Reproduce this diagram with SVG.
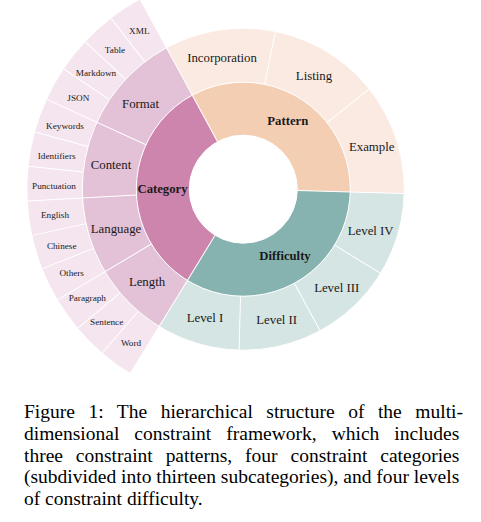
<svg xmlns="http://www.w3.org/2000/svg" width="481" height="522" viewBox="0 0 481 522">
<style>
  .arc{fill:none;}
  .in{stroke-width:53;}
  .mid{stroke-width:54;}
  .out{stroke-width:55;}
  .c1{stroke:#cd84ad;} .c2{stroke:#e3c1d6;} .c3{stroke:#f4e5ee;}
  .p1{stroke:#f4ceb3;} .p2{stroke:#fbeae2;}
  .d1{stroke:#86b2b0;} .d2{stroke:#d4e5e3;}
  .sep{stroke:#ffffff;stroke-width:1;fill:none;}
  text{font-family:"Liberation Serif","Times New Roman",serif;fill:#1a1a1a;text-anchor:middle;}
  .l0{font-size:12.7px;font-weight:bold;}
  .l1{font-size:12.8px;}
  .l2{font-size:9.2px;}
  .cap{font-size:19.5px;fill:#000;text-anchor:start;}
</style>

<!-- inner ring -->
<g id="pattern">
  <circle class="arc in p1" cx="243.3" cy="189.2" r="80.5" pathLength="360" stroke-dasharray="120 360" transform="rotate(-118.5 243.3 189.2)"/>
  <text class="l0" x="287.8" y="125">Pattern</text>
</g>
<g id="difficulty">
  <circle class="arc in d1" cx="243.3" cy="189.2" r="80.5" pathLength="360" stroke-dasharray="120 360" transform="rotate(1.5 243.3 189.2)"/>
  <text class="l0" x="285" y="260.3">Difficulty</text>
</g>
<g id="category">
  <circle class="arc in c1" cx="243.3" cy="189.2" r="80.5" pathLength="360" stroke-dasharray="120 360" transform="rotate(121.5 243.3 189.2)"/>
  <text class="l0" x="162.5" y="193">Category</text>
</g>

<!-- middle ring: pattern -->
<g id="incorporation">
  <circle class="arc mid p2" cx="243.3" cy="189.2" r="134" pathLength="360" stroke-dasharray="40 360" transform="rotate(-118.5 243.3 189.2)"/>
  <text class="l1" x="222" y="62.2">Incorporation</text>
</g>
<g id="listing">
  <circle class="arc mid p2" cx="243.3" cy="189.2" r="134" pathLength="360" stroke-dasharray="40 360" transform="rotate(-78.5 243.3 189.2)"/>
  <text class="l1" x="314" y="79.5">Listing</text>
</g>
<g id="example">
  <circle class="arc mid p2" cx="243.3" cy="189.2" r="134" pathLength="360" stroke-dasharray="40 360" transform="rotate(-38.5 243.3 189.2)"/>
  <text class="l1" x="371.7" y="150.5">Example</text>
</g>

<!-- middle ring: difficulty -->
<g id="level-iv">
  <circle class="arc mid d2" cx="243.3" cy="189.2" r="134" pathLength="360" stroke-dasharray="30 360" transform="rotate(1.5 243.3 189.2)"/>
  <text class="l1" x="370.7" y="235">Level IV</text>
</g>
<g id="level-iii">
  <circle class="arc mid d2" cx="243.3" cy="189.2" r="134" pathLength="360" stroke-dasharray="30 360" transform="rotate(31.5 243.3 189.2)"/>
  <text class="l1" x="336.7" y="292">Level III</text>
</g>
<g id="level-ii">
  <circle class="arc mid d2" cx="243.3" cy="189.2" r="134" pathLength="360" stroke-dasharray="30 360" transform="rotate(61.5 243.3 189.2)"/>
  <text class="l1" x="276.7" y="324">Level II</text>
</g>
<g id="level-i">
  <circle class="arc mid d2" cx="243.3" cy="189.2" r="134" pathLength="360" stroke-dasharray="30 360" transform="rotate(91.5 243.3 189.2)"/>
  <text class="l1" x="205" y="322">Level I</text>
</g>

<!-- middle ring: category -->
<g id="length">
  <circle class="arc mid c2" cx="243.3" cy="189.2" r="134" pathLength="360" stroke-dasharray="27.692 360" transform="rotate(121.5 243.3 189.2)"/>
  <text class="l1" x="147" y="286">Length</text>
</g>
<g id="language">
  <circle class="arc mid c2" cx="243.3" cy="189.2" r="134" pathLength="360" stroke-dasharray="27.692 360" transform="rotate(149.192 243.3 189.2)"/>
  <text class="l1" x="116" y="233.3">Language</text>
</g>
<g id="content">
  <circle class="arc mid c2" cx="243.3" cy="189.2" r="134" pathLength="360" stroke-dasharray="27.692 360" transform="rotate(176.885 243.3 189.2)"/>
  <text class="l1" x="111" y="169.3">Content</text>
</g>
<g id="format">
  <circle class="arc mid c2" cx="243.3" cy="189.2" r="134" pathLength="360" stroke-dasharray="36.923 360" transform="rotate(204.577 243.3 189.2)"/>
  <text class="l1" x="140.5" y="108">Format</text>
</g>

<!-- outer ring: category leaves -->
<g id="word">
  <circle class="arc out c3" cx="243.3" cy="189.2" r="188.5" pathLength="360" stroke-dasharray="9.2308 360" transform="rotate(121.5 243.3 189.2)"/>
  <text class="l2" x="131" y="345.7">Word</text>
</g>
<g id="sentence">
  <circle class="arc out c3" cx="243.3" cy="189.2" r="188.5" pathLength="360" stroke-dasharray="9.2308 360" transform="rotate(130.731 243.3 189.2)"/>
  <text class="l2" x="106.7" y="325.3">Sentence</text>
</g>
<g id="paragraph">
  <circle class="arc out c3" cx="243.3" cy="189.2" r="188.5" pathLength="360" stroke-dasharray="9.2308 360" transform="rotate(139.962 243.3 189.2)"/>
  <text class="l2" x="87.3" y="301.3">Paragraph</text>
</g>
<g id="others">
  <circle class="arc out c3" cx="243.3" cy="189.2" r="188.5" pathLength="360" stroke-dasharray="9.2308 360" transform="rotate(149.192 243.3 189.2)"/>
  <text class="l2" x="71.7" y="276.3">Others</text>
</g>
<g id="chinese">
  <circle class="arc out c3" cx="243.3" cy="189.2" r="188.5" pathLength="360" stroke-dasharray="9.2308 360" transform="rotate(158.423 243.3 189.2)"/>
  <text class="l2" x="61.7" y="249">Chinese</text>
</g>
<g id="english">
  <circle class="arc out c3" cx="243.3" cy="189.2" r="188.5" pathLength="360" stroke-dasharray="9.2308 360" transform="rotate(167.654 243.3 189.2)"/>
  <text class="l2" x="55" y="218">English</text>
</g>
<g id="punctuation">
  <circle class="arc out c3" cx="243.3" cy="189.2" r="188.5" pathLength="360" stroke-dasharray="9.2308 360" transform="rotate(176.885 243.3 189.2)"/>
  <text class="l2" x="54" y="189">Punctuation</text>
</g>
<g id="identifiers">
  <circle class="arc out c3" cx="243.3" cy="189.2" r="188.5" pathLength="360" stroke-dasharray="9.2308 360" transform="rotate(186.115 243.3 189.2)"/>
  <text class="l2" x="56.7" y="159">Identifiers</text>
</g>
<g id="keywords">
  <circle class="arc out c3" cx="243.3" cy="189.2" r="188.5" pathLength="360" stroke-dasharray="9.2308 360" transform="rotate(195.346 243.3 189.2)"/>
  <text class="l2" x="65" y="129">Keywords</text>
</g>
<g id="json">
  <circle class="arc out c3" cx="243.3" cy="189.2" r="188.5" pathLength="360" stroke-dasharray="9.2308 360" transform="rotate(204.577 243.3 189.2)"/>
  <text class="l2" x="78.3" y="101.3">JSON</text>
</g>
<g id="markdown">
  <circle class="arc out c3" cx="243.3" cy="189.2" r="188.5" pathLength="360" stroke-dasharray="9.2308 360" transform="rotate(213.808 243.3 189.2)"/>
  <text class="l2" x="96" y="75.7">Markdown</text>
</g>
<g id="table">
  <circle class="arc out c3" cx="243.3" cy="189.2" r="188.5" pathLength="360" stroke-dasharray="9.2308 360" transform="rotate(223.038 243.3 189.2)"/>
  <text class="l2" x="115" y="53">Table</text>
</g>
<g id="xml">
  <circle class="arc out c3" cx="243.3" cy="189.2" r="188.5" pathLength="360" stroke-dasharray="9.2308 360" transform="rotate(232.269 243.3 189.2)"/>
  <text class="l2" x="139.3" y="33.5">XML</text>
</g>

<!-- sector borders -->
<g id="borders" class="sep">
  <circle cx="243.3" cy="189.2" r="54"/>
  <circle cx="243.3" cy="189.2" r="107"/>
  <circle cx="243.3" cy="189.2" r="161"/>
  <line x1="243.3" y1="135.2" x2="243.3" y2="-26.8" transform="rotate(-28.5 243.3 189.2)"/>
  <line x1="243.3" y1="135.2" x2="243.3" y2="28.2" transform="rotate(91.5 243.3 189.2)"/>
  <line x1="243.3" y1="135.2" x2="243.3" y2="-26.8" transform="rotate(211.5 243.3 189.2)"/>
  <line x1="243.3" y1="82.2" x2="243.3" y2="28.2" transform="rotate(11.5 243.3 189.2)"/>
  <line x1="243.3" y1="82.2" x2="243.3" y2="28.2" transform="rotate(51.5 243.3 189.2)"/>
  <line x1="243.3" y1="82.2" x2="243.3" y2="28.2" transform="rotate(121.5 243.3 189.2)"/>
  <line x1="243.3" y1="82.2" x2="243.3" y2="28.2" transform="rotate(151.5 243.3 189.2)"/>
  <line x1="243.3" y1="82.2" x2="243.3" y2="28.2" transform="rotate(181.5 243.3 189.2)"/>
  <line x1="243.3" y1="82.2" x2="243.3" y2="-26.8" transform="rotate(239.192 243.3 189.2)"/>
  <line x1="243.3" y1="82.2" x2="243.3" y2="-26.8" transform="rotate(266.885 243.3 189.2)"/>
  <line x1="243.3" y1="82.2" x2="243.3" y2="-26.8" transform="rotate(294.577 243.3 189.2)"/>
  <line x1="243.3" y1="28.2" x2="243.3" y2="-26.8" transform="rotate(220.731 243.3 189.2)"/>
  <line x1="243.3" y1="28.2" x2="243.3" y2="-26.8" transform="rotate(229.962 243.3 189.2)"/>
  <line x1="243.3" y1="28.2" x2="243.3" y2="-26.8" transform="rotate(248.423 243.3 189.2)"/>
  <line x1="243.3" y1="28.2" x2="243.3" y2="-26.8" transform="rotate(257.654 243.3 189.2)"/>
  <line x1="243.3" y1="28.2" x2="243.3" y2="-26.8" transform="rotate(276.115 243.3 189.2)"/>
  <line x1="243.3" y1="28.2" x2="243.3" y2="-26.8" transform="rotate(285.346 243.3 189.2)"/>
  <line x1="243.3" y1="28.2" x2="243.3" y2="-26.8" transform="rotate(303.808 243.3 189.2)"/>
  <line x1="243.3" y1="28.2" x2="243.3" y2="-26.8" transform="rotate(313.038 243.3 189.2)"/>
  <line x1="243.3" y1="28.2" x2="243.3" y2="-26.8" transform="rotate(322.269 243.3 189.2)"/>
</g>

<!-- caption -->
<g id="caption">
  <text class="cap" x="24" y="418.3" word-spacing="8.6" textLength="439" lengthAdjust="spacing">Figure 1:  The hierarchical structure of the multi-</text>
  <text class="cap" x="24" y="440" word-spacing="10.1" textLength="435.3" lengthAdjust="spacing">dimensional constraint framework, which includes</text>
  <text class="cap" x="24" y="461.7" word-spacing="8" textLength="435.3" lengthAdjust="spacing">three constraint patterns, four constraint categories</text>
  <text class="cap" x="24" y="483.4" textLength="435.3" lengthAdjust="spacing">(subdivided into thirteen subcategories), and four levels</text>
  <text class="cap" x="24" y="505">of constraint difficulty.</text>
</g>
</svg>
